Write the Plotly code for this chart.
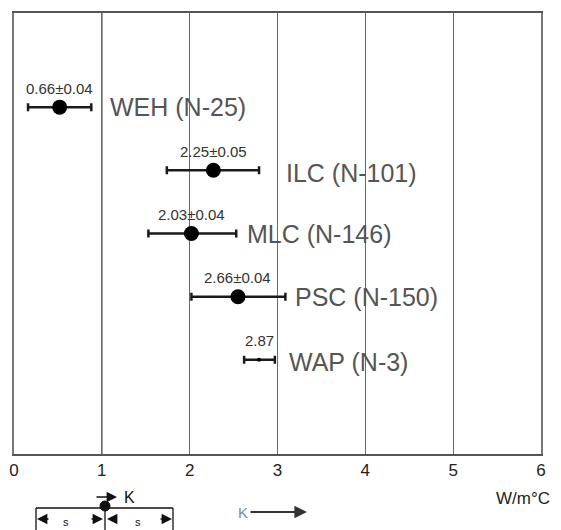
import plotly.graph_objects as go

# ---- data ----
categories = ["WEH", "ILC", "MLC", "PSC", "WAP"]
n_labels = ["WEH (N-25)", "ILC (N-101)", "MLC (N-146)", "PSC (N-150)", "WAP (N-3)"]
value_labels = ["0.66±0.04", "2.25±0.05", "2.03±0.04", "2.66±0.04", "2.87"]
centers = [0.52, 2.27, 2.02, 2.55, 2.79]
lows = [0.16, 1.74, 1.53, 2.02, 2.62]
highs = [0.88, 2.79, 2.53, 3.09, 2.97]
marker_sizes = [15, 15, 15, 15, 4]
x_ticks = [0, 1, 2, 3, 4, 5, 6]

# ---- layout helpers (page pixel -> paper coords; page has an 8px body margin) ----
OFF = 8
W, H = 561 - OFF, 530 - OFF
PL, PR, PT, PB = 14, 541, 13, 454          # plot area in page pixels
L, T = PL - OFF, PT - OFF
R, B = W - (PR - OFF), H - (PB - OFF)
PW, PH = PR - PL, PB - PT


def PX(px):
    return (px - PL) / PW


def PY(py):
    return (PB - py) / PH


name_xshift = [17, 25, 9, 8, 12]
name_yshift = [0, -3, 0, 0, -2]

ypos = [len(categories) - i for i in range(len(categories))]

fig = go.Figure()
fig.add_trace(go.Scatter(
    x=centers, y=ypos, mode="markers",
    marker=dict(size=marker_sizes, color="#000000", opacity=1,
                line=dict(color="#000000", width=0)),
    error_x=dict(type="data", symmetric=False,
                 array=[h - c for h, c in zip(highs, centers)],
                 arrayminus=[c - l for c, l in zip(centers, lows)],
                 color="#1a1a1a", thickness=2.5, width=4),
    showlegend=False, hoverinfo="skip",
))

ann = []
for i in range(len(categories)):
    ann.append(dict(x=centers[i], y=ypos[i], xref="x", yref="y",
                    text=value_labels[i], showarrow=False, yshift=19,
                    xanchor="center", yanchor="middle",
                    font=dict(family="Liberation Sans", size=15, color="#333333")))
    ann.append(dict(x=highs[i], y=ypos[i], xref="x", yref="y",
                    text=n_labels[i], showarrow=False, xanchor="left", yanchor="middle",
                    xshift=name_xshift[i], yshift=name_yshift[i],
                    font=dict(family="Liberation Sans", size=25, color="#555555")))

# unit label
ann.append(dict(x=PX(552), y=PY(498), xref="paper", yref="paper", text="W/m°C",
                xanchor="right", yanchor="middle", showarrow=False,
                font=dict(family="Liberation Sans", size=17, color="#222222")))

# schematic below the axis
ann.append(dict(x=PX(129), y=PY(497), xref="paper", yref="paper", text="K",
                xanchor="center", yanchor="middle", showarrow=False,
                font=dict(family="Liberation Sans", size=16, color="#111111")))
arrow_style = dict(xref="paper", yref="paper", text="", showarrow=True,
                   arrowhead=2, arrowsize=1.6, arrowwidth=1.3, arrowcolor="#111111",
                   axref="pixel", ayref="pixel")
for head, tail_dx, yy in [(117, -22, 497), (37, 13, 519), (103, -13, 519),
                          (107, 11, 519), (172, -13, 519)]:
    a = dict(arrow_style)
    a.update(x=PX(head), y=PY(yy), ax=tail_dx, ay=0)
    ann.append(a)
for sx in [66, 138]:
    ann.append(dict(x=PX(sx), y=PY(514), xref="paper", yref="paper", text="s",
                    xanchor="center", yanchor="top", showarrow=False,
                    font=dict(family="Liberation Sans", size=11, color="#111111")))
ann.append(dict(x=PX(243), y=PY(512), xref="paper", yref="paper", text="K",
                xanchor="center", yanchor="middle", showarrow=False,
                font=dict(family="Liberation Sans", size=15, color="#888888")))
big = dict(arrow_style)
big.update(x=PX(307), y=PY(512), ax=-58, ay=0, arrowhead=2, arrowsize=1.4,
           arrowwidth=1.8, arrowcolor="#333333")
ann.append(big)

shapes = [
    # darker grid line at x = 1, as in the original
    dict(type="line", xref="x", yref="paper", x0=x_ticks[1], x1=x_ticks[1], y0=0, y1=1,
         line=dict(color="#222222", width=1.2), layer="below"),
    dict(type="line", xref="paper", yref="paper", x0=PX(36), x1=PX(173), y0=PY(508), y1=PY(508),
         line=dict(color="#111111", width=1.3)),
    dict(type="line", xref="paper", yref="paper", x0=PX(36), x1=PX(36), y0=PY(508), y1=PY(545),
         line=dict(color="#111111", width=1.3)),
    dict(type="line", xref="paper", yref="paper", x0=PX(173), x1=PX(173), y0=PY(508), y1=PY(545),
         line=dict(color="#111111", width=1.3)),
    dict(type="line", xref="paper", yref="paper", x0=PX(105), x1=PX(105), y0=PY(508), y1=PY(545),
         line=dict(color="#111111", width=1.3)),
    dict(type="circle", xref="paper", yref="paper", x0=PX(100), x1=PX(110), y0=PY(501), y1=PY(511),
         fillcolor="#111111", line=dict(color="#111111", width=1)),
]

fig.update_layout(
    width=W, height=H,
    margin=dict(l=L, r=R, t=T, b=B, autoexpand=False),
    paper_bgcolor="white", plot_bgcolor="white",
    annotations=ann, shapes=shapes,
    xaxis=dict(range=[0, 6], tickvals=x_ticks, ticktext=[str(t) for t in x_ticks],
               showgrid=True, gridcolor="#6a6a6a", gridwidth=1,
               zeroline=False, showline=True, linecolor="#555555", linewidth=1.5, mirror=True,
               ticks="", automargin=False,
               tickfont=dict(family="Liberation Sans", size=17, color="#222222")),
    yaxis=dict(range=[-0.49, 6.49], showgrid=False, zeroline=False, showticklabels=False,
               showline=True, linecolor="#777777", linewidth=1.5, mirror=True, ticks="",
               automargin=False),
)

fig.write_html("out.html")
